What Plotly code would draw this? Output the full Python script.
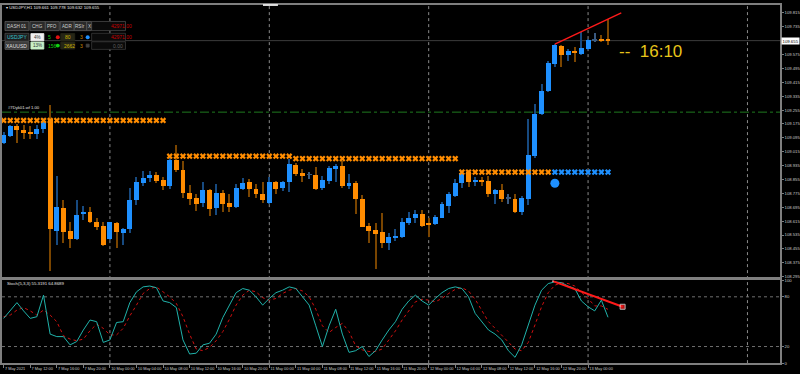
import plotly.graph_objects as go

# ---------------- data ----------------
bar_index = list(range(-16, 76))
open_ = [109.066, 109.105, 109.165, 109.143, 109.129, 109.120, 109.144, 109.205, 108.560, 108.693,
         108.560, 108.512, 108.654, 108.668, 108.608, 108.589,
         108.513, 108.602, 108.549, 108.568, 108.735, 108.835, 108.862, 108.883, 108.855, 108.815,
         108.966, 108.911, 108.779, 108.748, 108.719, 108.792, 108.691, 108.780, 108.722, 108.695,
         108.799, 108.843, 108.801, 108.773, 108.719, 108.843, 108.805, 108.839, 108.939, 108.890,
         108.882, 108.883, 108.807, 108.849, 108.915, 108.934, 108.815, 108.835, 108.745, 108.587,
         108.564, 108.553, 108.489, 108.521, 108.526, 108.603, 108.636, 108.654, 108.604, 108.598,
         108.636, 108.702, 108.759, 108.835, 108.896, 108.839, 108.855, 108.849, 108.773, 108.792,
         108.745, 108.745, 108.668, 108.745, 108.991, 109.231, 109.366, 109.521, 109.626, 109.572,
         109.597, 109.578, 109.606, 109.658, 109.660, 109.661]
high = [109.127, 109.171, 109.174, 109.171, 109.162, 109.171, 109.208, 109.285, 108.877, 108.739,
        108.608, 108.739, 108.701, 108.697, 108.631, 108.611,
        108.611, 108.611, 108.574, 108.807, 108.867, 108.905, 108.905, 108.896, 108.867, 108.981,
        109.051, 108.962, 108.826, 108.773, 108.843, 108.801, 108.830, 108.796, 108.769, 108.830,
        108.864, 108.858, 108.830, 108.839, 108.867, 108.849, 108.849, 108.975, 108.952, 108.915,
        108.896, 108.928, 108.877, 108.934, 108.943, 108.962, 108.887, 108.849, 108.764, 108.606,
        108.602, 108.663, 108.545, 108.568, 108.631, 108.668, 108.678, 108.678, 108.631, 108.650,
        108.725, 108.782, 108.858, 108.905, 108.909, 108.867, 108.867, 108.877, 108.801, 108.830,
        108.773, 108.773, 108.758, 109.205, 109.288, 109.407, 109.540, 109.635, 109.629, 109.606,
        109.616, 109.705, 109.663, 109.701, 109.688, 109.778]
low = [109.059, 109.099, 109.066, 109.091, 109.091, 109.086, 109.123, 108.327, 108.479, 108.489,
       108.461, 108.508, 108.621, 108.603, 108.564, 108.473,
       108.508, 108.461, 108.479, 108.549, 108.707, 108.820, 108.839, 108.833, 108.792, 108.801,
       108.901, 108.750, 108.707, 108.674, 108.697, 108.644, 108.650, 108.670, 108.670, 108.693,
       108.792, 108.754, 108.750, 108.719, 108.716, 108.769, 108.786, 108.782, 108.873, 108.839,
       108.858, 108.796, 108.796, 108.830, 108.839, 108.807, 108.801, 108.659, 108.580, 108.492,
       108.337, 108.461, 108.447, 108.502, 108.517, 108.593, 108.603, 108.580, 108.523, 108.593,
       108.631, 108.663, 108.754, 108.807, 108.810, 108.820, 108.815, 108.754, 108.712, 108.725,
       108.716, 108.663, 108.650, 108.707, 108.980, 109.228, 109.360, 109.502, 109.506, 109.535,
       109.531, 109.575, 109.603, 109.645, 109.645, 109.632]
close = [109.110, 109.162, 109.139, 109.123, 109.120, 109.147, 109.194, 108.570, 108.697, 108.554,
         108.512, 108.651, 108.667, 108.608, 108.583, 108.475,
         108.608, 108.551, 108.568, 108.739, 108.839, 108.866, 108.881, 108.849, 108.816, 108.966,
         108.911, 108.776, 108.745, 108.716, 108.792, 108.684, 108.780, 108.716, 108.695, 108.805,
         108.837, 108.799, 108.769, 108.735, 108.843, 108.801, 108.843, 108.943, 108.884, 108.879,
         108.882, 108.801, 108.853, 108.924, 108.934, 108.816, 108.835, 108.745, 108.583, 108.560,
         108.543, 108.489, 108.523, 108.530, 108.608, 108.636, 108.654, 108.587, 108.596, 108.640,
         108.712, 108.769, 108.835, 108.892, 108.839, 108.853, 108.845, 108.773, 108.792, 108.745,
         108.745, 108.668, 108.748, 108.996, 109.231, 109.364, 109.525, 109.629, 109.575, 109.593,
         109.582, 109.612, 109.660, 109.658, 109.657, 109.655]

stoch_main = [54, 64, 73, 63, 54, 56, 82, 35, 32, 32, 22, 26, 40, 52, 50, 25,
              28, 49, 50, 73, 86, 92, 93, 91, 75, 73, 67, 28, 11, 12, 22,
              24, 35, 55, 70, 85, 90, 88, 80, 70, 78,
              85, 88, 92, 90, 80, 70, 45, 20, 45, 65,
              35, 13, 15, 20, 8, 15, 28, 40, 50, 65,
              75, 82, 75, 70, 78, 85, 90, 92, 90, 80,
              60, 50, 40, 35, 28, 15, 7, 22, 45, 70,
              88, 96, 98, 97, 93, 90, 75, 68, 63, 76, 55.3191]
stoch_signal = [56, 58, 64, 67, 63, 58, 64, 58, 50, 33, 29, 27, 29, 39, 47, 42,
                34, 34, 42, 57, 70, 84, 90, 92, 86, 80, 72, 56, 35, 17, 15,
                19, 27, 38, 53, 70, 82, 88, 86, 79, 76,
                78, 84, 88, 90, 87, 80, 65, 45, 37, 43,
                48, 38, 21, 16, 14, 14, 17, 28, 39, 52,
                63, 74, 77, 76, 74, 78, 84, 89, 91, 87,
                77, 63, 50, 42, 34, 26, 17, 15, 25, 46,
                68, 85, 94, 97, 96, 93, 86, 78, 69, 69, 64.8689]

zone_start = [-16, 9, 28, 53, 67]
zone_end = [8, 27, 52, 66, 75]
zone_price = [109.195, 108.989, 108.975, 108.897, 108.897]
zone_kind = ["sell", "sell", "sell", "sell", "buy"]

dot_x = [67]
dot_price = [108.833]
level_price = [109.243]
level_name = "#7Dyk01.wf 1.00"
trend_price_x = [67, 77]
trend_price_y = [109.635, 109.815]
trend_stoch_x = [66.7, 77.2]
trend_stoch_y = [99, 68]
day_starts = [0, 24, 48, 72, 96]
stoch_levels = [20, 80]

time_tick_idx = [-16, -12, -8, -4, 0, 4, 8, 12, 16, 20, 24, 28, 32, 36, 40, 44, 48, 52, 56, 60, 64, 68, 72]
time_tick_text = ["7 May 2021", "7 May 12:00", "7 May 16:00", "7 May 20:00",
                  "10 May 00:00", "10 May 04:00", "10 May 08:00", "10 May 12:00", "10 May 16:00", "10 May 20:00",
                  "11 May 00:00", "11 May 04:00", "11 May 08:00", "11 May 12:00", "11 May 16:00", "11 May 20:00",
                  "12 May 00:00", "12 May 04:00", "12 May 08:00", "12 May 12:00", "12 May 16:00", "12 May 20:00",
                  "13 May 00:00"]
price_ticks = [108.295, 108.375, 108.455, 108.535, 108.615, 108.695, 108.775, 108.855, 108.935, 109.015,
               109.095, 109.175, 109.255, 109.335, 109.415, 109.495, 109.575, 109.655, 109.735, 109.815]
stoch_ticks = [0, 20, 80, 100]
timer_text = "--  16:10"

# ---------------- styling ----------------
BULL = "#1E90FF"
BEAR = "#FF8C00"
BULL_WICK = "#174a80"
BEAR_WICK = "#7a4500"
DOJI = "#3a5a80"
GRID = "#8a8a8a"
FRAME = "#7f7f7f"
TXT = "#c8c8c8"
FONT = "Liberation Sans"

W, H = 800, 374
PW = 781.0


def py(v):
    return 1 - v / H


def pxx(v):
    return v / PW


body_base, body_h, body_col, wick_col = [], [], [], []
for o, c in zip(open_, close):
    body_base.append(min(o, c))
    body_h.append(max(abs(c - o), 0.004))
    if c > o:
        body_col.append(BULL)
        wick_col.append(BULL_WICK)
    elif c < o:
        body_col.append(BEAR)
        wick_col.append(BEAR_WICK)
    else:
        body_col.append(DOJI)
        wick_col.append(DOJI)

fig = go.Figure()

# wicks
fig.add_trace(go.Bar(x=bar_index, base=low, y=[h - l for h, l in zip(high, low)],
                     width=0.16, marker=dict(color=wick_col, line=dict(width=0)),
                     xaxis="x", yaxis="y", hoverinfo="skip"))
# bodies
fig.add_trace(go.Bar(x=bar_index, base=body_base, y=body_h, width=0.74,
                     marker=dict(color=body_col, line=dict(width=0)),
                     xaxis="x", yaxis="y", hoverinfo="skip"))

# zone markers
for s, e, p, k in zip(zone_start, zone_end, zone_price, zone_kind):
    xs = list(range(s, e + 1))
    fig.add_trace(go.Scatter(x=xs, y=[p] * len(xs), mode="markers",
                             marker=dict(symbol="x", size=5.5,
                                         color=BEAR if k == "sell" else BULL,
                                         line=dict(width=0)),
                             xaxis="x", yaxis="y", hoverinfo="skip"))

# signal dot
fig.add_trace(go.Scatter(x=dot_x, y=dot_price, mode="markers",
                         marker=dict(size=9, color=BULL), xaxis="x", yaxis="y"))

# price trend line
fig.add_trace(go.Scatter(x=trend_price_x, y=trend_price_y, mode="lines",
                         line=dict(color="#ff1a1a", width=1.4), xaxis="x", yaxis="y"))

# stochastic
fig.add_trace(go.Scatter(x=bar_index, y=stoch_signal, mode="lines",
                         line=dict(color="#d01010", width=1, dash="dot"),
                         xaxis="x2", yaxis="y2"))
fig.add_trace(go.Scatter(x=bar_index, y=stoch_main, mode="lines",
                         line=dict(color="#20B2AA", width=1),
                         xaxis="x2", yaxis="y2"))
fig.add_trace(go.Scatter(x=trend_stoch_x, y=trend_stoch_y, mode="lines+markers",
                         line=dict(color="#ff1a1a", width=2),
                         marker=dict(symbol=["circle", "square"], size=[1, 5], color="#ff1a1a"),
                         xaxis="x2", yaxis="y2"))

shapes = []
# daily grid
for d in day_starts:
    shapes.append(dict(type="line", xref="x", yref="paper", x0=d, x1=d, y0=py(365), y1=py(2),
                       line=dict(color=GRID, width=1, dash="dot"), layer="below"))
# stochastic levels
for lv in stoch_levels:
    shapes.append(dict(type="line", xref="paper", yref="y2", x0=0, x1=1, y0=lv, y1=lv,
                       line=dict(color="#707070", width=1, dash="dot"), layer="below"))
# horizontal object line
for lp in level_price:
    shapes.append(dict(type="line", xref="paper", yref="y", x0=0, x1=1, y0=lp, y1=lp,
                       line=dict(color="#1f7a1f", width=1, dash="dashdot"), layer="below"))
# bid line
shapes.append(dict(type="line", xref="paper", yref="y", x0=0, x1=1, y0=close[-1], y1=close[-1],
                   line=dict(color="#3c3c3c", width=1), layer="below"))
# chart shift marker on top edge
shapes.append(dict(type="rect", xref="paper", yref="paper", x0=pxx(262), x1=pxx(277),
                   y0=py(3), y1=py(1), fillcolor="#e0e0e0", line=dict(width=0), layer="above"))

annotations = []


def rect(x0, y0, x1, y1, fill, line=None):
    shapes.append(dict(type="rect", xref="paper", yref="paper", x0=pxx(x0), x1=pxx(x1),
                       y0=py(y1), y1=py(y0), fillcolor=fill,
                       line=dict(color=line or fill, width=0.8), layer="above"))


def circ(cx, cy, r, fill):
    shapes.append(dict(type="circle", xref="paper", yref="paper", x0=pxx(cx - r), x1=pxx(cx + r),
                       y0=py(cy + r), y1=py(cy - r), fillcolor=fill, line=dict(width=0), layer="above"))


def text(x, y, s, color, size=5, anchor="left", xref="paper", yref="paper", **kw):
    annotations.append(dict(xref=xref, yref=yref, x=pxx(x) if xref == "paper" else x,
                            y=py(y) if yref == "paper" else y, text=s, showarrow=False,
                            xanchor=anchor, yanchor="middle",
                            font=dict(color=color, size=size, family=FONT), **kw))


# header
text(2, 5, "\u25be USDJPY,H1 %.3f %.3f %.3f %.3f" % (open_[-1], high[-1], low[-1], close[-1]), "#e8e8e8", 4.3)

# dashboard row 1
rect(3, 18.7, 27, 28, "#2a2a2a", "#5a5a5a"); text(15, 23.4, "DASH 01", "#d0d0d0", 4.6, "center")
rect(28, 18.7, 43.5, 28, "#2a2a2a", "#5a5a5a"); text(35.7, 23.4, "CHG", "#d0d0d0", 4.6, "center")
rect(43.5, 18.7, 57.5, 28, "#2a2a2a", "#5a5a5a"); text(50.5, 23.4, "PFO", "#d0d0d0", 4.6, "center")
rect(58.5, 18.7, 72.5, 28, "#2a2a2a", "#5a5a5a"); text(65.5, 23.4, "ADR", "#d0d0d0", 4.6, "center")
rect(72.5, 18.7, 85, 28, "#2a2a2a", "#5a5a5a"); text(78.8, 23.4, "RSIr", "#d0d0d0", 4.6, "center")
rect(85, 18.7, 90, 28, "#2a2a2a", "#5a5a5a"); text(87.5, 23.4, "X", "#d0d0d0", 4.6, "center")
rect(90, 18.7, 124, 28, "#0a0a0a", "#4a4a4a"); text(133, 23.4, "42971.00", "#c80000", 5, "right")
# row 2
rect(3, 30.7, 27, 38.7, "#1e1e1e", "#4a4a4a"); text(15, 34.7, "USDJPY", "#35c4d0", 5, "center")
rect(29, 31, 42, 38.3, "#f0f0f0"); text(35.5, 34.7, "4%", "#303030", 4.6, "center")
text(44, 34.7, "5", "#12c812", 5)
circ(56, 34.7, 2, "#e01010")
rect(59, 31, 73, 38.3, "#262616"); text(61.5, 34.7, "80", "#c8b400", 5)
text(76.5, 34.7, "3", "#d08a00", 5)
circ(86, 34.7, 2, BULL)
rect(90, 30.7, 124, 38.7, "#0a0a0a", "#3a3a3a"); text(133, 34.7, "42971.00", "#c80000", 5, "right")
# row 3
rect(3, 39.3, 27, 47, "#3a3a3a", "#5a5a5a"); text(15, 43.2, "XAUUSD", "#e0e0e0", 5, "center")
rect(29, 39.6, 42, 46.7, "#c8f0c8"); text(35.5, 43.2, "13%", "#303030", 4.6, "center")
text(44, 43.2, "156", "#12c812", 5)
circ(56, 43.2, 2, "#10d010")
rect(59, 39.6, 73, 46.7, "#262616"); text(60.5, 43.2, "2662", "#c8b400", 5)
text(76.5, 43.2, "3", "#d08a00", 5)
rect(84.5, 41.7, 87.5, 44.7, "#404040")
rect(90, 39.3, 124, 47, "#0a0a0a", "#3a3a3a"); text(123, 43.2, "0.00", "#606060", 5, "right")

# object label
text(4, 106, level_name, "#e0e0e0", 4.2)
# countdown timer
annotations.append(dict(xref="x", yref="y", x=76.3, y=109.593, text=timer_text, showarrow=False,
                        xanchor="left", yanchor="middle",
                        font=dict(color="#E8C51A", size=17, family=FONT)))
# current price label (covers the axis label at the same level)
annotations.append(dict(xref="paper", yref="y", x=1, xshift=1, y=close[-1], text="%.3f" % close[-1],
                        showarrow=False, xanchor="left", yanchor="middle", bgcolor="#ffffff",
                        borderpad=0.5, font=dict(color="#000000", size=4.3, family=FONT)))
# stochastic title
text(3, 284.5, "Stoch(5,3,3) %.4f %.4f" % (stoch_main[-1], stoch_signal[-1]), "#e0e0e0", 4.3)

price_ticktext = ["" if abs(t - close[-1]) < 0.003 else "%.3f" % t for t in price_ticks]

x_range = [-16.25, 100.9]
fig.update_layout(
    width=W, height=H, margin=dict(l=0, r=19, t=0, b=0),
    paper_bgcolor="#000000", plot_bgcolor="#000000", showlegend=False,
    barmode="overlay", bargap=0,
    shapes=shapes, annotations=annotations,
    font=dict(family=FONT, color=TXT, size=5),
    xaxis=dict(domain=[0, 1], range=x_range, anchor="y", showticklabels=False, showgrid=False,
               zeroline=False, showline=True, mirror=True, linecolor=FRAME, linewidth=1.5, ticks=""),
    xaxis2=dict(domain=[0, 1], range=x_range, anchor="y2", matches="x", showgrid=False, zeroline=False,
                showline=True, mirror=True, linecolor=FRAME, linewidth=1.5,
                tickmode="array", tickvals=time_tick_idx, ticktext=time_tick_text, tickangle=0,
                ticks="outside", ticklen=3, tickcolor=FRAME, ticklabelposition="outside right",
                tickfont=dict(size=3.9, color=TXT, family=FONT)),
    yaxis=dict(domain=[py(278), py(2)], range=[108.2914, 109.8605], side="right", anchor="x",
               tickmode="array", tickvals=price_ticks, ticktext=price_ticktext,
               ticks="outside", ticklen=2, tickcolor=FRAME, showgrid=False, zeroline=False,
               showline=True, mirror=True, linecolor=FRAME, linewidth=1.5,
               tickfont=dict(size=4.2, color=TXT, family=FONT)),
    yaxis2=dict(domain=[py(365), py(281)], range=[0, 100], side="right", anchor="x2",
                tickmode="array", tickvals=stoch_ticks, ticktext=[str(t) for t in stoch_ticks],
                ticks="outside", ticklen=2, tickcolor=FRAME, showgrid=False, zeroline=False,
                showline=True, mirror=True, linecolor=FRAME, linewidth=1.5,
                tickfont=dict(size=4.2, color=TXT, family=FONT)),
)

fig.write_html("out.html", config={"displayModeBar": False},
               post_script="document.body.style.margin='0px';document.body.style.overflow='hidden';")
